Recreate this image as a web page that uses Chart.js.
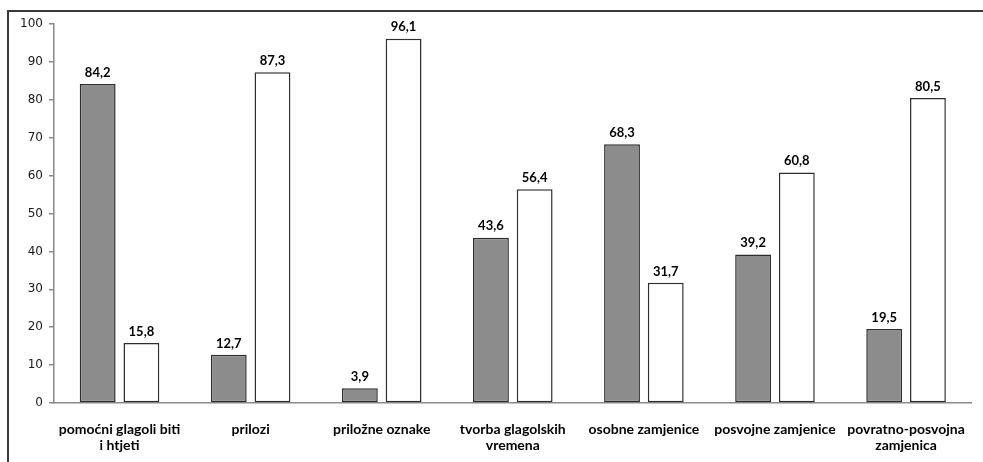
<!DOCTYPE html>
<html>
<head>
<meta charset="utf-8">
<script src="https://cdn.jsdelivr.net/npm/chart.js@4/dist/chart.umd.min.js"></script>
<style>
  html, body { margin: 0; padding: 0; background: #fff; overflow: hidden; }
  #wrap { position: relative; width: 983px; height: 462px; }
  #frame { position: absolute; left: 7px; top: 10px; width: 1100px; height: 600px; border: 2px solid #3a3a3a; box-sizing: border-box; }
  canvas { position: absolute; left: 0; top: 0; }
</style>
</head>
<body>
<div id="wrap">
  <div id="frame"></div>
  <canvas id="chart" width="983" height="462"></canvas>
</div>
<script>
// categories and values
var categories = [
  ['pomoćni glagoli biti', 'i htjeti'],
  'prilozi',
  'priložne oznake',
  ['tvorba glagolskih', 'vremena'],
  'osobne zamjenice',
  'posvojne zamjenice',
  ['povratno-posvojna', 'zamjenica']
];
var greyValues = [84.2, 12.7, 3.9, 43.6, 68.3, 39.2, 19.5];
var whiteValues = [15.8, 87.3, 96.1, 56.4, 31.7, 60.8, 80.5];
var yTicks = [0, 10, 20, 30, 40, 50, 60, 70, 80, 90, 100];

// value labels above each bar
var valueLabels = {
  id: 'valueLabels',
  afterDatasetsDraw: function (chart) {
    var ctx = chart.ctx;
    ctx.save();
    ctx.font = 'bold 13px Lato, "Open Sans", sans-serif';
    ctx.fillStyle = '#000';
    ctx.textAlign = 'center';
    ctx.textBaseline = 'bottom';
    chart.data.datasets.forEach(function (ds, i) {
      chart.getDatasetMeta(i).data.forEach(function (bar, j) {
        ctx.fillText(ds.data[j].toFixed(1).replace('.', ','), bar.x, bar.y - 5);
      });
    });
    ctx.restore();
  }
};

var chart = new Chart(document.getElementById('chart'), {
  type: 'bar',
  data: {
    labels: categories,
    datasets: [{
      data: greyValues,
      backgroundColor: '#8c8c8c',
      borderColor: '#2e2e2e',
      borderWidth: 1.5,
      borderSkipped: false,
      categoryPercentage: 0.667,
      barPercentage: 0.82
    }, {
      data: whiteValues,
      backgroundColor: '#ffffff',
      borderColor: '#2e2e2e',
      borderWidth: 1.5,
      borderSkipped: false,
      categoryPercentage: 0.667,
      barPercentage: 0.82
    }]
  },
  options: {
    responsive: false,
    animation: false,
    layout: { padding: { top: 24, right: 3, left: 0, bottom: 0 } },
    plugins: {
      legend: { display: false },
      tooltip: { enabled: false }
    },
    scales: {
      x: {
        grid: { display: false, drawTicks: false },
        border: { display: true, color: '#8a8a8a', width: 1.5 },
        ticks: {
          color: '#000',
          padding: 18,
          maxRotation: 0,
          autoSkip: false,
          font: { family: 'Lato, "Open Sans", sans-serif', size: 14, weight: 'bold', lineHeight: 1.15 }
        },
        afterFit: function (axis) { axis.height = 59; }
      },
      y: {
        min: 0,
        max: 100,
        afterBuildTicks: function (axis) {
          axis.ticks = yTicks.map(function (v) { return { value: v }; });
        },
        grid: { drawOnChartArea: false, drawTicks: true, tickLength: 5, color: '#8a8a8a', lineWidth: 1.5 },
        border: { display: true, color: '#8a8a8a', width: 1.5 },
        ticks: {
          color: '#1a1a1a',
          padding: 6,
          font: { family: '"DejaVu Sans", Verdana, sans-serif', size: 12 }
        },
        afterFit: function (axis) { axis.width = 54; }
      }
    }
  },
  plugins: [valueLabels]
});
</script>
</body>
</html>
